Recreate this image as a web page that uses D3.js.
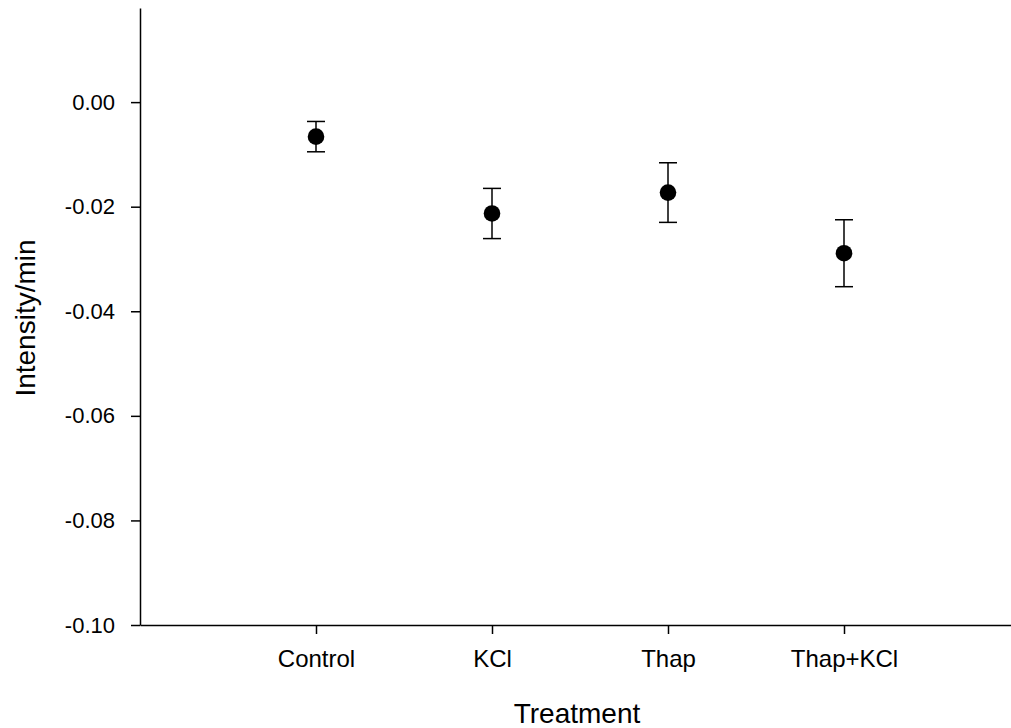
<!DOCTYPE html>
<html>
<head>
<meta charset="utf-8">
<script src="https://cdn.jsdelivr.net/npm/d3@7"></script>
<style>
  body { margin: 0; background: #fff; }
  svg text { font-family: "Liberation Sans", Arial, sans-serif; fill: #000; }
  .axis path, .axis line { stroke: #000; stroke-width: 1.5; }
</style>
</head>
<body>
<div id="chart"></div>
<script>
const categories = ["Control", "KCl", "Thap", "Thap+KCl"];
const means = [-0.0066, -0.0213, -0.0173, -0.0289];
const errors = [0.0029, 0.0048, 0.0057, 0.0064];
const yTicks = [0, -0.02, -0.04, -0.06, -0.08, -0.10];

const width = 1011, height = 728;
const margin = {top: 8, left: 140, bottom: 103, right: 0};
const plotH = height - margin.top - margin.bottom;

const svg = d3.select("#chart").append("svg")
    .attr("width", width)
    .attr("height", height);

const g = svg.append("g")
    .attr("transform", "translate(" + margin.left + "," + margin.top + ")");

// categories sit at 1..4 on a 0..5 axis, which runs past the right edge
let xScale = d3.scaleLinear().domain([0, 5]).range([0, 880]);
let yScale = d3.scaleLinear().domain([-0.1, 0.018]).range([plotH, 0]);

const xAxis = g.append("g")
    .attr("class", "axis")
    .attr("transform", "translate(0," + plotH + ")")
    .call(d3.axisBottom(xScale)
        .tickValues([1, 2, 3, 4])
        .tickFormat(d => categories[d - 1])
        .tickSize(9)
        .tickSizeOuter(0)
        .tickPadding(16));
xAxis.selectAll("text").style("font-size", "24px");

const yAxis = g.append("g")
    .attr("class", "axis")
    .call(d3.axisLeft(yScale)
        .tickValues(yTicks)
        .tickFormat(d => d.toFixed(2))
        .tickSize(9)
        .tickSizeOuter(0)
        .tickPadding(16));
yAxis.selectAll("text").style("font-size", "22px");

// error bars
const bars = g.append("g").selectAll("g")
    .data(means)
    .enter()
    .append("g");

bars.append("line")
    .attr("x1", (d, i) => xScale(i + 1))
    .attr("x2", (d, i) => xScale(i + 1))
    .attr("y1", (d, i) => yScale(d + errors[i]))
    .attr("y2", (d, i) => yScale(d - errors[i]))
    .attr("stroke", "#000").attr("stroke-width", 1.5);

[1, -1].forEach(s => {
    bars.append("line")
        .attr("x1", (d, i) => xScale(i + 1) - 9)
        .attr("x2", (d, i) => xScale(i + 1) + 9)
        .attr("y1", (d, i) => yScale(d + s * errors[i]))
        .attr("y2", (d, i) => yScale(d + s * errors[i]))
        .attr("stroke", "#000").attr("stroke-width", 1.5);
});

bars.append("circle")
    .attr("cx", (d, i) => xScale(i + 1))
    .attr("cy", d => yScale(d))
    .attr("r", 8.3)
    .attr("fill", "#000");

svg.append("text")
    .attr("x", 577)
    .attr("y", 723)
    .attr("text-anchor", "middle")
    .style("font-size", "28px")
    .text("Treatment");

svg.append("text")
    .attr("transform", "translate(35,318) rotate(-90)")
    .attr("text-anchor", "middle")
    .style("font-size", "28px")
    .text("Intensity/min");
</script>
</body>
</html>
